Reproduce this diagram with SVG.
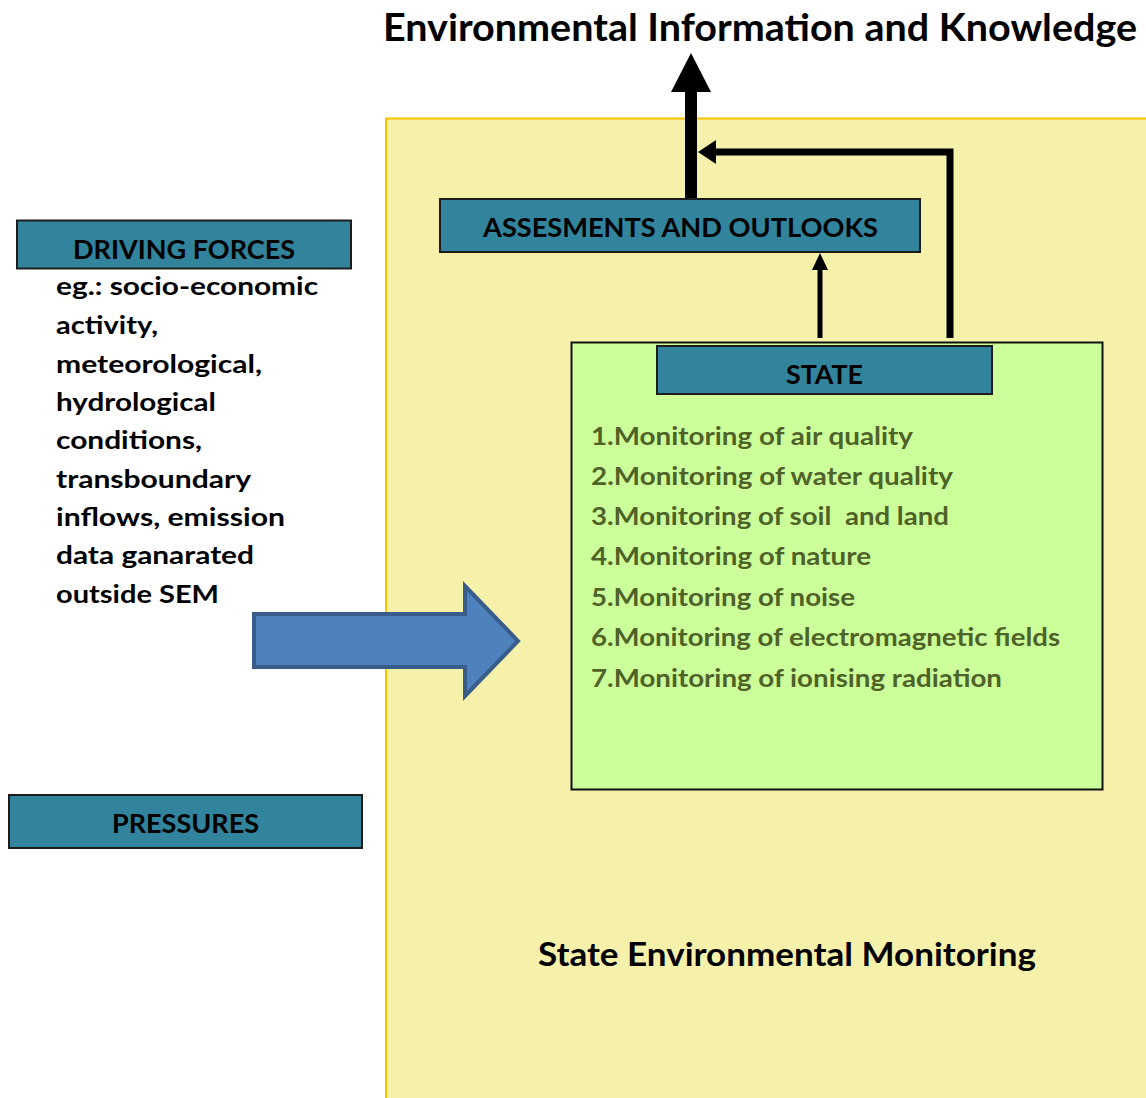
<svg xmlns="http://www.w3.org/2000/svg" width="1146" height="1098" viewBox="0 0 1146 1098">
<style>
text{font-family:Lato,"Open Sans","Liberation Sans",sans-serif;font-weight:bold;}
.box{fill:#31849B;stroke:#1c1c1c;stroke-width:2;}
.lbl{font-size:26px;fill:#000;text-anchor:start;}
.body{font-size:25.5px;fill:#000;}
.item{font-size:25px;fill:#4F6228;}
.conn{stroke:#000;fill:none;}
</style>
<rect width="1146" height="1098" fill="#fff"/>
<g id="sem">
<rect x="386" y="118.5" width="780" height="1000" fill="#F5F1AB" stroke="#FFC000" stroke-width="2"/>
<text x="538" y="966" font-size="32" textLength="498" lengthAdjust="spacingAndGlyphs">State Environmental Monitoring</text>
</g>
<g id="title">
<text x="383" y="41" font-size="38" textLength="754" lengthAdjust="spacingAndGlyphs">Environmental Information and Knowledge</text>
</g>
<g id="state-container">
<rect x="571.5" y="342.5" width="531" height="447" fill="#CCFF99" stroke="#111" stroke-width="2"/>
<text class="item" x="591" y="445" textLength="322" lengthAdjust="spacingAndGlyphs">1.Monitoring of air quality</text>
<text class="item" x="591" y="485" textLength="362" lengthAdjust="spacingAndGlyphs">2.Monitoring of water quality</text>
<text class="item" x="591" y="525" textLength="358" lengthAdjust="spacingAndGlyphs" xml:space="preserve">3.Monitoring of soil  and land</text>
<text class="item" x="591" y="565" textLength="280" lengthAdjust="spacingAndGlyphs">4.Monitoring of nature</text>
<text class="item" x="591" y="606" textLength="264" lengthAdjust="spacingAndGlyphs">5.Monitoring of noise</text>
<text class="item" x="591" y="646" textLength="469" lengthAdjust="spacingAndGlyphs">6.Monitoring of electromagnetic fields</text>
<text class="item" x="591" y="687" textLength="411" lengthAdjust="spacingAndGlyphs">7.Monitoring of ionising radiation</text>
</g>
<g id="state">
<rect class="box" x="657" y="346" width="335" height="48"/>
<text class="lbl" x="786" y="384" textLength="77" lengthAdjust="spacingAndGlyphs">STATE</text>
</g>
<g id="assessments">
<rect class="box" x="440" y="199" width="480" height="53"/>
<text class="lbl" x="483" y="237" textLength="395" lengthAdjust="spacingAndGlyphs">ASSESMENTS AND OUTLOOKS</text>
</g>
<g id="driving-forces">
<rect class="box" x="17" y="220.5" width="334" height="48"/>
<text class="lbl" x="73" y="259" textLength="222" lengthAdjust="spacingAndGlyphs">DRIVING FORCES</text>
<text class="body" x="56" y="295" textLength="262" lengthAdjust="spacingAndGlyphs">eg.: socio-economic</text>
<text class="body" x="56" y="334" textLength="102" lengthAdjust="spacingAndGlyphs">activity,</text>
<text class="body" x="56" y="373" textLength="206" lengthAdjust="spacingAndGlyphs">meteorological,</text>
<text class="body" x="56" y="411" textLength="160" lengthAdjust="spacingAndGlyphs">hydrological</text>
<text class="body" x="56" y="449" textLength="146" lengthAdjust="spacingAndGlyphs">conditions,</text>
<text class="body" x="56" y="488" textLength="195" lengthAdjust="spacingAndGlyphs">transboundary</text>
<text class="body" x="56" y="526" textLength="229" lengthAdjust="spacingAndGlyphs">inflows, emission</text>
<text class="body" x="56" y="564" textLength="198" lengthAdjust="spacingAndGlyphs">data ganarated</text>
<text class="body" x="56" y="603" textLength="163" lengthAdjust="spacingAndGlyphs">outside SEM</text>
</g>
<g id="pressures">
<rect class="box" x="9" y="795" width="353" height="53"/>
<text class="lbl" x="112" y="833" textLength="147" lengthAdjust="spacingAndGlyphs">PRESSURES</text>
</g>
<g id="connectors">
<polygon points="254,614 465,614 465,586 518,641 465,696 465,667 254,667" fill="#4F81BD" stroke="#385D8A" stroke-width="4" stroke-linejoin="miter"/>
<line class="conn" x1="691" y1="198" x2="691" y2="90" stroke-width="12"/>
<polygon points="691,53 671,92 711,92" fill="#000"/>
<line class="conn" x1="820" y1="338" x2="820" y2="267" stroke-width="5"/>
<polygon points="820,253 812,270 828,270" fill="#000"/>
<polyline class="conn" points="950,338 950,152 714,152" stroke-width="7" stroke-linejoin="miter"/>
<polygon points="698,152 716,140 716,164" fill="#000"/>
</g>
</svg>
